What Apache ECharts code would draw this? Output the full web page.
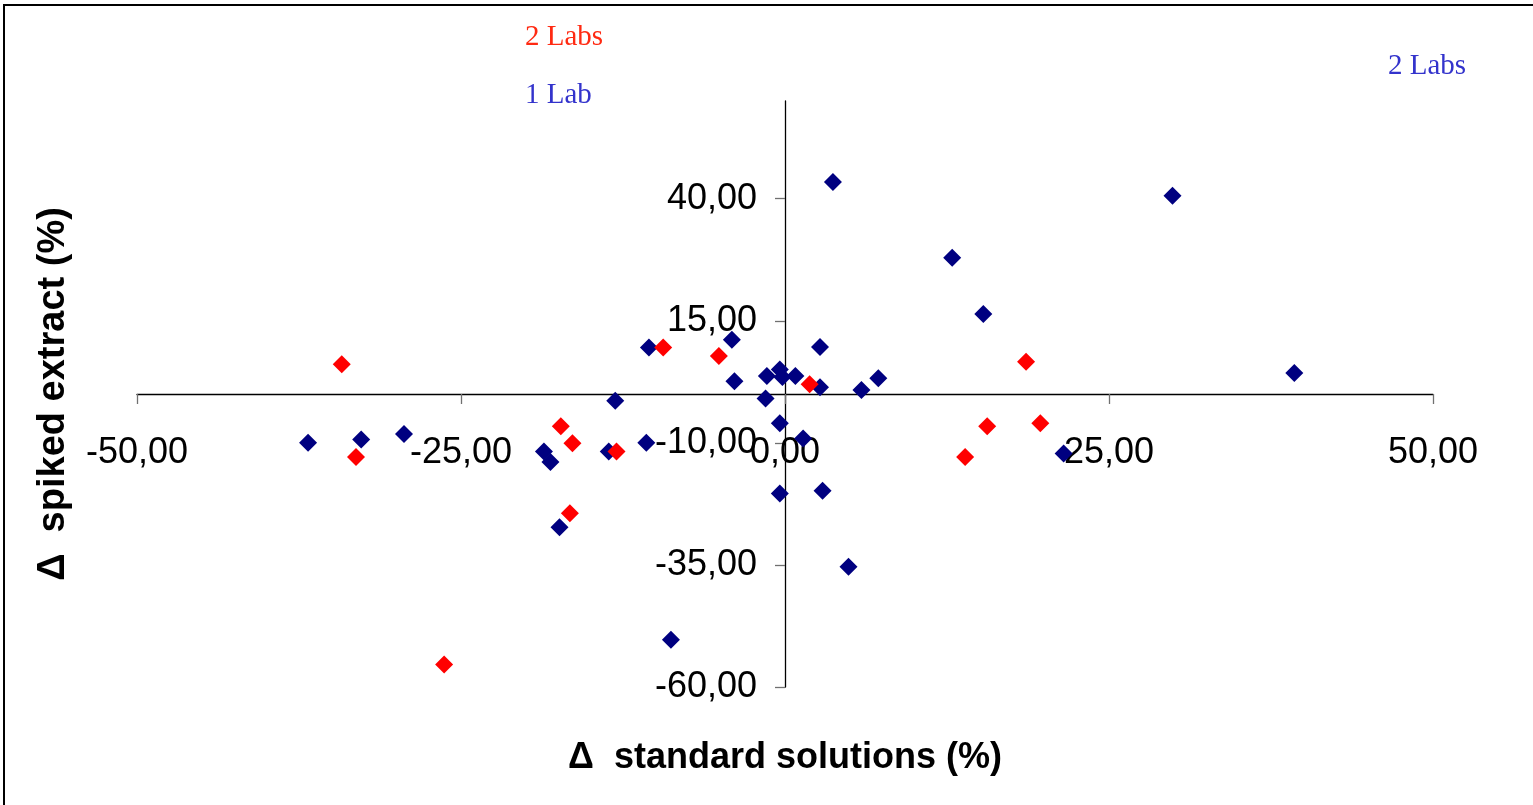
<!DOCTYPE html>
<html>
<head>
<meta charset="utf-8">
<script src="https://cdn.jsdelivr.net/npm/echarts@6/dist/echarts.min.js"></script>
<style>
  html, body { margin: 0; padding: 0; background: #ffffff; }
  #chart { width: 1533px; height: 805px; }
</style>
</head>
<body>
<div id="chart"></div>
<script>
// Series: [Δ standard solutions (%), Δ spiked extract (%)]
const oneLab = [
  [-36.8, -10.0], [-32.7, -9.3], [-29.4, -8.2], [-18.6, -11.8], [-18.1, -13.9],
  [-17.4, -27.3], [-13.1, -1.4], [-13.6, -11.8], [-10.5, 9.5], [-10.7, -10.0],
  [-8.8, -50.3], [-4.1, 11.1], [-3.9, 2.6], [-1.5, -0.9], [-1.4, 3.7],
  [-0.4, 5.0], [-0.2, 3.5], [0.8, 3.7], [-0.4, -6.0], [-0.4, -20.4],
  [1.4, -9.1], [2.7, 9.6], [2.7, 1.4], [2.9, -19.8], [3.7, 43.4],
  [4.9, -35.4], [5.9, 0.8], [7.2, 3.2], [12.9, 27.9], [15.3, 16.4],
  [21.5, -12.2], [29.9, 40.6], [39.3, 4.3]
];
const twoLabs = [
  [-34.2, 6.1], [-33.1, -12.9], [-26.3, -55.4], [-17.3, -6.6], [-16.4, -10.1],
  [-16.6, -24.4], [-13.0, -11.8], [-9.4, 9.5], [-5.1, 7.8], [1.9, 2.0],
  [13.9, -12.9], [15.6, -6.6], [18.6, 6.6], [19.7, -6.0]
];
const xTicks = [-50, -25, 0, 25, 50];
const yTicks = [-60, -35, -10, 15, 40];
const xTitle = 'Δ  standard solutions (%)';
const yTitle = 'Δ  spiked extract (%)';
const notes = [
  { text: '2 Labs', color: '#FF2A12', x: 525, y: 37 },
  { text: '1 Lab', color: '#3333CC', x: 525, y: 95 },
  { text: '2 Labs', color: '#3333CC', x: 1388, y: 66 }
];

const fmt = v => v.toFixed(2).replace('.', ',');
const chart = echarts.init(document.getElementById('chart'), null, { renderer: 'canvas' });

const option = {
  backgroundColor: '#ffffff',
  animation: false,
  grid: { left: 137, right: 100, top: 101, bottom: 118, containLabel: false, outerBoundsMode: 'none' },
  xAxis: {
    type: 'value', min: -50, max: 50, interval: 25,
    splitLine: { show: false },
    axisLine: { onZero: true, lineStyle: { color: '#000000', width: 1.3 } },
    axisTick: { show: true, length: 10, lineStyle: { color: '#707070', width: 1.3 }, customValues: xTicks },
    axisLabel: {
      customValues: xTicks, formatter: fmt, margin: -252,
      fontFamily: 'Liberation Sans, Arial, sans-serif', fontSize: 36, color: '#000000'
    },
    name: xTitle, nameLocation: 'middle', nameGap: 53,
    nameTextStyle: { fontFamily: 'Liberation Sans, Arial, sans-serif', fontSize: 36, fontWeight: 'bold', color: '#000000' }
  },
  yAxis: {
    type: 'value', min: -60, max: 60, interval: 25,
    splitLine: { show: false },
    axisLine: { onZero: true, lineStyle: { color: '#000000', width: 1.3 } },
    axisTick: { show: true, length: 10, lineStyle: { color: '#707070', width: 1.3 }, customValues: yTicks },
    axisLabel: {
      customValues: yTicks, formatter: fmt, margin: -620,
      fontFamily: 'Liberation Sans, Arial, sans-serif', fontSize: 36, color: '#000000'
    },
    name: yTitle, nameLocation: 'middle', nameGap: 64, nameRotate: 90,
    nameTextStyle: { fontFamily: 'Liberation Sans, Arial, sans-serif', fontSize: 38, fontWeight: 'bold', color: '#000000' }
  },
  series: [
    {
      name: '1 Lab', type: 'scatter', symbol: 'diamond', symbolSize: 18,
      itemStyle: { color: '#000080', opacity: 1 }, data: oneLab
    },
    {
      name: '2 Labs', type: 'scatter', symbol: 'diamond', symbolSize: 18,
      itemStyle: { color: '#FF0000', opacity: 1 }, data: twoLabs
    }
  ],
  graphic: [
    {
      type: 'rect', silent: true, z: 100,
      shape: { x: 4, y: 5, width: 1600, height: 900 },
      style: { fill: 'none', stroke: '#000000', lineWidth: 2 }
    }
  ].concat(notes.map(n => ({
    type: 'text', silent: true, x: n.x, y: n.y,
    style: {
      text: n.text, fill: n.color, font: '29px "Liberation Serif", "Times New Roman", serif',
      textVerticalAlign: 'middle', textAlign: 'left'
    }
  })))
};
chart.setOption(option);
</script>
</body>
</html>
